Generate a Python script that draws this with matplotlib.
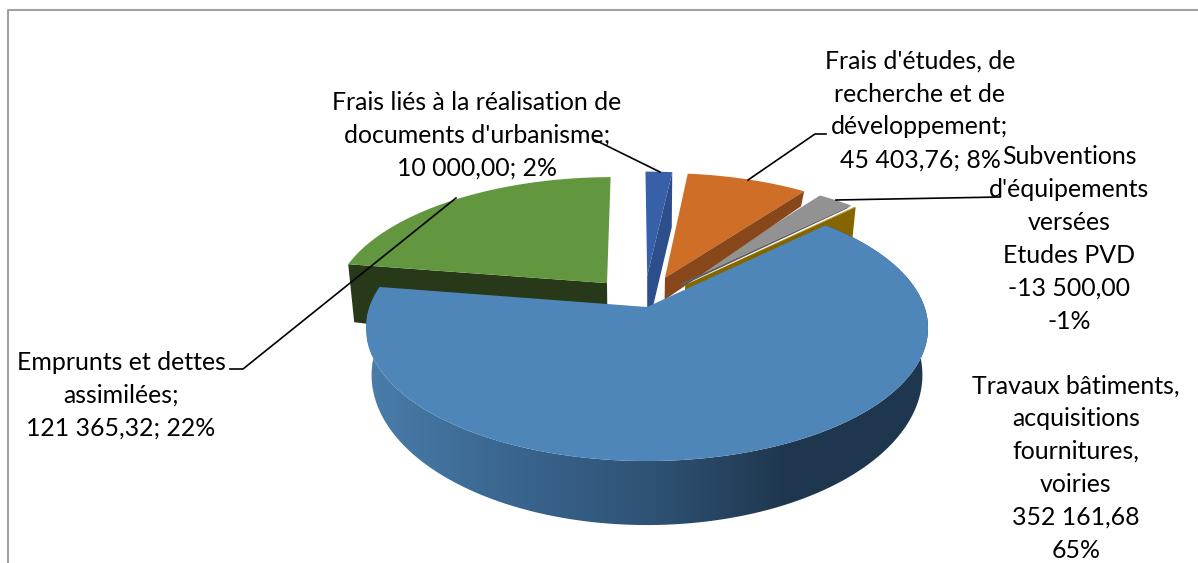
import numpy as np
import matplotlib
matplotlib.use("Agg")
import matplotlib.pyplot as plt
from matplotlib.colors import LinearSegmentedColormap
from matplotlib.patches import Polygon

plt.rcParams['font.family'] = ['Lato', 'DejaVu Sans']

# slices, clockwise from the start angle
slice_names = ["Travaux", "Emprunts", "Frais urbanisme", "Frais etudes", "Subventions", "Autre"]
slice_values = [352161.68, 121365.32, 10000.00, 45403.76, 13500.00, 500.00]
top_colors = ["#4e86b9", "#62973f", "#3860a8", "#cf6e27", "#929292", "#b88b00"]
face_colors = [None, "#28391a", "#2c4e8c", "#87471b", "#5f5f5f", "#846500"]

label_texts = [
    "Frais liés à la réalisation de\ndocuments d'urbanisme;\n10 000,00; 2%",
    "Frais d'études, de\nrecherche et de\ndéveloppement;\n45 403,76; 8%",
    "Subventions\nd'équipements\nversées\nEtudes PVD\n-13 500,00\n-1%",
    "Emprunts et dettes\nassimilées;\n121 365,32; 22%",
    "Travaux bâtiments,\nacquisitions\nfournitures,\nvoiries\n352 161,68\n65%",
]
label_pos = [(477, 135), (920, 110.5), (1069, 239), (121, 395), (1076, 468)]

# view of the pie, in pixels
cx, cy = 647, 307
rx, ry = 277.5, 129.7
persp = 0.158
start_angle = 45.6
explode = 0.25
shrink = 0.98


def project(X, Y):
    s = 1 / (1 + persp * Y)
    return cx + rx * X * s, cy - ry * Y * s


def lower(x, y, drop):
    return cx + (x - cx) * shrink, y + drop


fig = plt.figure(figsize=(11.98, 5.63), dpi=100)
ax = fig.add_axes([0, 0, 1, 1])
ax.set_xlim(0, 1198)
ax.set_ylim(563, 0)
ax.axis("off")

# only top and left of the chart frame are in the crop
ax.plot([8, 8, 1198], [563, 10, 10], color="#a0a0a0", lw=1.5, zorder=1)

spans = np.array(slice_values) / sum(slice_values) * 360
starts = start_angle + np.concatenate([[0], np.cumsum(spans)[:-1]])

# which radial cut shows, and its drop at apex and at rim
cuts = {1: ("start", 70, 58), 2: ("end", 55, 55), 3: ("end", 22, 15), 4: ("end", 3, 3), 5: ("end", 40, 40)}

# far slices first, big slice last
for i in [5, 4, 3, 2, 1]:
    a0, a1 = np.radians(starts[i]), np.radians(starts[i] + spans[i])
    mid = (a0 + a1) / 2
    ox, oy = 0.85 * explode * np.sin(mid) - 0.01, explode * np.cos(mid)
    t = np.linspace(a0, a1, 60)
    px, py = project(ox + np.sin(t), oy + np.cos(t))
    ax_, ay_ = project(ox, oy)
    side, d_in, d_out = cuts[i]
    k = 0 if side == "start" else -1
    bx0, by0 = lower(ax_, ay_, d_in)
    bx1, by1 = lower(px[k], py[k], d_out)
    ax.add_patch(Polygon([(ax_, ay_), (px[k], py[k]), (bx1, by1), (bx0, by0)],
                         fc=face_colors[i], ec="none", zorder=2 + i * 0.1))
    ax.add_patch(Polygon(np.r_[[(ax_, ay_)], np.c_[px, py]], fc=top_colors[i], ec="none",
                         zorder=2.05 + (5 - i) * 0.1))

# big slice: gradient wall then top
t = np.radians(np.linspace(starts[0], starts[0] + spans[0], 240))
px, py = project(np.sin(t), np.cos(t))
# the lower rim is a taller ellipse than the top one
bx = cx + (px - cx) * shrink
by = 1.128 * py + 5
wall_pts = np.r_[np.c_[px, py], np.c_[bx, by][::-1]]
wall_patch = Polygon(wall_pts, fc="none", ec="none", zorder=3)
ax.add_patch(wall_patch)
cmap = LinearSegmentedColormap.from_list("wall", ["#4a7dab", "#3a6690", "#2f5376", "#1f374e", "#1f374e"])
img = ax.imshow(np.linspace(0, 1, 256)[None, :], extent=(367, 928, 563, 0), cmap=cmap, aspect="auto", zorder=3)
img.set_clip_path(wall_patch)
ax.set_xlim(0, 1198)
ax.set_ylim(563, 0)
ax.add_patch(Polygon(np.r_[[(cx, cy)], np.c_[px, py]], fc=top_colors[0], ec="none", zorder=4))

# leader lines
leaders = [
    ([595, 660], [140, 172]),
    ([748, 815, 826], [180, 134, 134]),
    ([836, 1000], [200, 197]),
    ([456, 243, 230], [198, 369, 369]),
]
for lx, ly in leaders:
    ax.plot(lx, ly, color="black", lw=1.2, zorder=5)

for txt, (x, y) in zip(label_texts, label_pos):
    ax.text(x, y, txt, ha="center", va="center", fontsize=17.9, color="black",
            linespacing=1.52, zorder=6)

fig.savefig("out.png", dpi=100)
